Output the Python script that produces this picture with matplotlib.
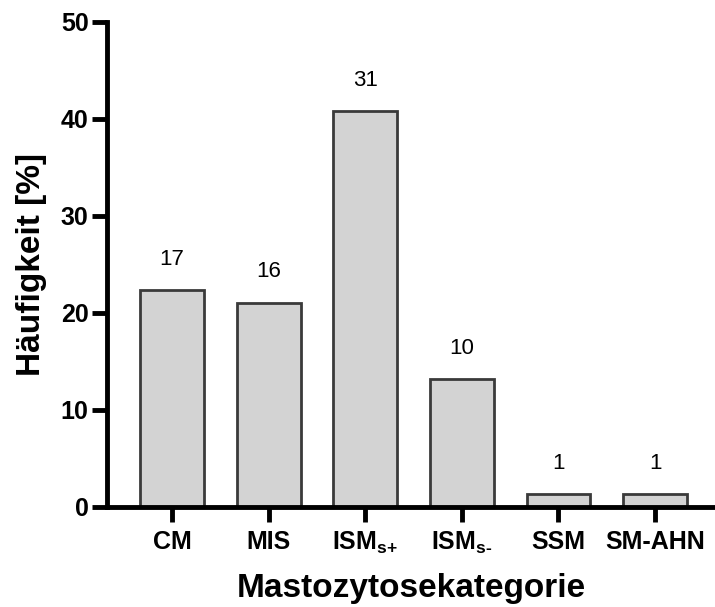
import matplotlib
matplotlib.use("Agg")
import matplotlib.pyplot as plt

categories = ["CM", "MIS", "ISM$_{\\mathbf{s{+}}}$", "ISM$_{\\mathbf{s\u2010}}$", "SSM", "SM-AHN"]
percent = [22.37, 21.05, 40.79, 13.16, 1.32, 1.32]
counts = [17, 16, 31, 10, 1, 1]
yticks = [0, 10, 20, 30, 40, 50]

plt.rcParams['font.family'] = ['Liberation Sans', 'DejaVu Sans']
plt.rcParams['mathtext.fontset'] = 'custom'
plt.rcParams['mathtext.rm'] = 'Liberation Sans:bold'
plt.rcParams['mathtext.bf'] = 'Liberation Sans:bold'
plt.rcParams['mathtext.it'] = 'Liberation Sans:bold'
plt.rcParams['mathtext.sf'] = 'Liberation Sans:bold'

fig = plt.figure(figsize=(7.15, 6.07), dpi=100)
ax = fig.add_axes([0.1503, 0.1652, 0.8497, 0.799])

x = list(range(len(categories)))
ax.bar(x, percent, width=0.66, color="#d3d3d3", edgecolor="#3a3a3a", linewidth=2, zorder=2)
for xi, p, c in zip(x, percent, counts):
    ax.annotate(str(c), (xi, p), xytext=(0, 14.5), textcoords="offset points",
                ha="center", va="bottom", fontsize=16)

ax.set_xlim(-0.668, 5.62)
ax.set_ylim(0, 50)
ax.set_yticks(yticks)
ax.set_xticks(x)
ax.set_xticklabels(categories, fontsize=18, fontweight="bold")
for lab in ax.get_yticklabels():
    lab.set_fontsize(18)
    lab.set_fontweight("bold")
for s in ["top", "right"]:
    ax.spines[s].set_visible(False)
for s in ["left", "bottom"]:
    ax.spines[s].set_linewidth(3.5)
    ax.spines[s].set_capstyle("projecting")
ax.tick_params(axis="both", width=3.5, length=10.5, color="black")
ax.tick_params(axis="y", pad=3)
ax.tick_params(axis="x", pad=6)
ax.set_ylabel("Häufigkeit [%]", fontsize=24, fontweight="bold", labelpad=10)
ax.set_xlabel("Mastozytosekategorie", fontsize=24, fontweight="bold", labelpad=12)

fig.savefig("out.png", dpi=100)
